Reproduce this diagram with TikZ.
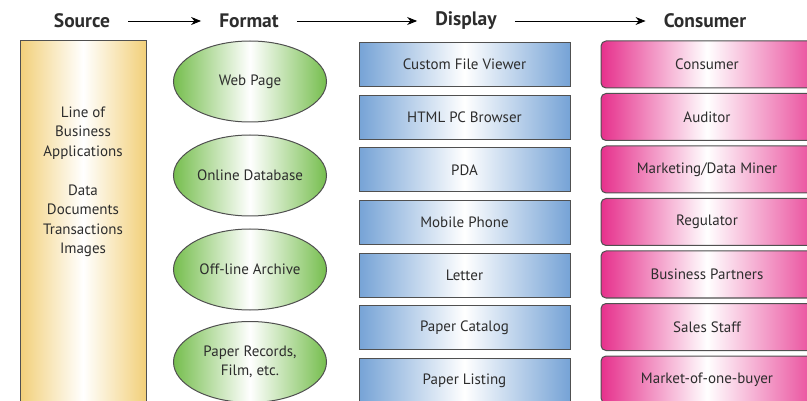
\documentclass[tikz,border=0pt]{standalone}
\usepackage{fontspec}
\setmainfont{PT Sans}
\usetikzlibrary{shapes.geometric,arrows.meta}
\definecolor{gold}{RGB}{242,208,122}
\definecolor{grn}{RGB}{118,190,78}
\definecolor{blu}{RGB}{118,163,214}
\definecolor{pnk}{RGB}{230,48,140}
\definecolor{edge}{RGB}{80,80,80}
\definecolor{txt}{RGB}{45,45,45}
\tikzset{
  base/.style={draw=edge, line width=1pt, text=txt, font=\fontsize{15}{19}\selectfont, inner sep=0pt, align=center},
  srcbox/.style={base, rectangle, minimum width=126, minimum height=380, left color=gold, right color=gold, middle color=white},
  fmtell/.style={base, ellipse, minimum width=153, minimum height=81, left color=grn, right color=grn, middle color=white},
  dispbox/.style={base, rectangle, minimum width=211, minimum height=44, left color=blu, right color=blu, middle color=white},
  consbox/.style={base, rectangle, rounded corners=5pt, minimum width=212, minimum height=47, left color=pnk, right color=pnk!85, middle color=white},
  head/.style={text=txt, font=\bfseries\fontsize{19.5}{22}\selectfont, inner xsep=18pt, inner ysep=0pt},
  flow/.style={draw=black, line width=0.9pt, -{Stealth[length=10pt,width=8pt]}}
}
\begin{document}
\begin{tikzpicture}[x=1pt,y=-1pt]
\useasboundingbox (0,0) rectangle (807,401);
\clip (0,0) rectangle (807,401);
% headers
\node[head] (hsrc) at (82,21) {Source};
\node[head] (hfmt) at (249,21) {Format};
\node[head] (hdsp) at (466,21) {Display};
\node[head] (hcon) at (705,21) {Consumer};
\draw[flow] (hsrc) -- (hfmt);
\draw[flow] (hfmt) -- (hdsp);
\draw[flow] (hdsp) -- (hcon);
% source
\node[srcbox] (src) at (83,231) {};
\node[text=txt, font=\fontsize{15}{19.5}\selectfont, align=center, anchor=north] (srct) at (83,103)
  {Line of\\Business\\Applications\\[19.5pt]Data\\Documents\\Transactions\\Images};
% formats
\node[fmtell] (f1) at (250,81.5) {Web Page};
\node[fmtell] (f2) at (250,175.5) {Online Database};
\node[fmtell] (f3) at (250,269.5) {Off-line Archive};
\node[fmtell] (f4) at (250,362) {Paper Records,\\Film, etc.};
% displays
\node[dispbox] (d1) at (464.5,64.5) {Custom File Viewer};
\node[dispbox] (d2) at (464.5,117.2) {HTML PC Browser};
\node[dispbox] (d3) at (464.5,169.8) {PDA};
\node[dispbox] (d4) at (464.5,222.5) {Mobile Phone};
\node[dispbox] (d5) at (464.5,275.2) {Letter};
\node[dispbox] (d6) at (464.5,327.8) {Paper Catalog};
\node[dispbox] (d7) at (464.5,380.5) {Paper Listing};
% consumers
\node[consbox] (c1) at (707,64.5) {Consumer};
\node[consbox] (c2) at (707,117) {Auditor};
\node[consbox] (c3) at (707,169.5) {Marketing/Data Miner};
\node[consbox] (c4) at (707,222) {Regulator};
\node[consbox] (c5) at (707,274.5) {Business Partners};
\node[consbox] (c6) at (707,327) {Sales Staff};
\node[consbox] (c7) at (707,379.5) {Market-of-one-buyer};
\end{tikzpicture}
\end{document}
